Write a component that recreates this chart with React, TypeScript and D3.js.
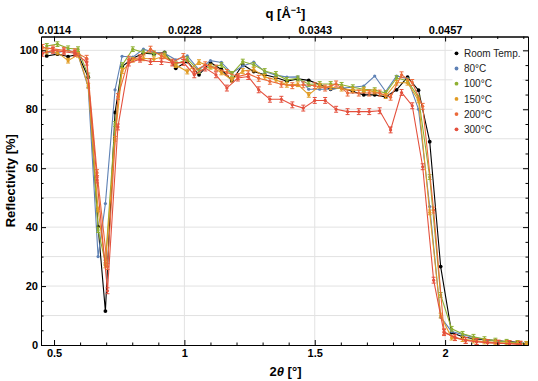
import React, { useEffect, useRef } from 'react';
import * as d3 from 'd3';

// scattering angle 2θ [°] of the measured points
const twoTheta = [0.472, 0.513, 0.554, 0.592, 0.631, 0.669, 0.697, 0.734, 0.761, 0.802, 0.843, 0.883, 0.924, 0.967, 1.011, 1.056, 1.100, 1.142, 1.182, 1.224, 1.266, 1.308, 1.351, 1.393, 1.435, 1.477, 1.519, 1.561, 1.603, 1.646, 1.688, 1.730, 1.772, 1.814, 1.856, 1.898, 1.941, 1.983, 2.025, 2.067, 2.109, 2.151, 2.193, 2.236, 2.278, 2.312];
// the 200°C and 300°C runs were taken on a slightly different grid
const twoThetaHot = [0.456, 0.496, 0.538, 0.580, 0.625, 0.665, 0.705, 0.745, 0.787, 0.830, 0.870, 0.912, 0.954, 0.996, 1.038, 1.080, 1.121, 1.163, 1.205, 1.245, 1.285, 1.328, 1.372, 1.414, 1.456, 1.500, 1.540, 1.582, 1.626, 1.669, 1.709, 1.749, 1.791, 1.833, 1.874, 1.914, 1.956, 1.996, 2.038, 2.079, 2.121, 2.163, 2.205, 2.247, 2.289];

// reflectivity [%]
const roomTemp = [98.1, 98.7, 97.9, 98.6, 90.9, 40.2, 11.5, 78.9, 94.5, 97.3, 99.0, 98.8, 99.3, 93.9, 96.2, 91.7, 95.9, 93.5, 89.7, 95.1, 92.8, 91.7, 90.8, 89.5, 90.3, 89.8, 88.4, 86.8, 87.3, 86.0, 84.9, 84.9, 84.2, 86.6, 90.9, 86.5, 69.0, 26.6, 4.2, 2.8, 2.1, 1.8, 1.5, 1.2, 0.9, 0.3];
const t80 = [99.4, 99.2, 100.1, 98.5, 87.5, 30.0, 48.0, 86.6, 98.0, 97.7, 100.4, 99.3, 99.0, 96.8, 98.1, 93.4, 96.5, 95.9, 92.3, 94.7, 96.0, 92.8, 91.6, 90.9, 91.0, 86.8, 86.8, 86.8, 87.2, 87.5, 87.9, 91.3, 86.0, 91.3, 90.4, 80.0, 47.0, 9.4, 4.6, 3.6, 2.6, 1.9, 1.4, 1.0, 0.6, 0.3];
const t100 = [101.5, 102.1, 100.7, 100.4, 91.5, 39.0, 28.0, 75.0, 95.0, 100.4, 99.3, 99.0, 98.7, 95.3, 97.0, 93.0, 94.5, 95.0, 92.0, 96.2, 95.1, 93.0, 92.0, 90.0, 90.5, 88.5, 88.6, 88.6, 88.3, 87.5, 86.8, 86.5, 85.5, 90.6, 89.7, 84.0, 57.0, 17.0, 5.5, 3.8, 2.8, 2.0, 1.5, 1.1, 0.7, 0.4];
const t150 = [99.6, 99.3, 96.5, 98.5, 88.0, 46.0, 27.0, 70.0, 93.0, 96.8, 97.3, 97.0, 98.0, 95.0, 92.8, 96.0, 94.5, 92.5, 90.0, 93.0, 93.5, 91.0, 90.0, 88.3, 88.5, 84.9, 88.0, 87.5, 87.0, 86.5, 86.5, 86.0, 84.5, 89.0, 89.0, 83.0, 45.0, 10.0, 2.5, 2.0, 1.5, 1.2, 0.9, 0.7, 0.5, 0.3];
const t200 = [101.0, 100.5, 100.0, 99.5, 97.3, 58.5, 26.6, 84.3, 97.0, 97.5, 100.4, 98.1, 96.0, 97.9, 93.0, 95.1, 94.0, 92.5, 91.1, 92.0, 90.5, 89.5, 88.5, 88.0, 88.3, 88.0, 87.2, 88.6, 85.5, 85.5, 85.5, 85.5, 84.1, 91.7, 89.1, 81.0, 45.8, 4.5, 2.5, 1.5, 1.2, 0.8, 0.6, 0.5, 0.3];
const t300 = [99.0, 100.0, 99.5, 99.0, 96.0, 56.0, 18.4, 74.0, 95.7, 97.0, 96.2, 96.2, 95.7, 95.9, 91.7, 94.0, 91.7, 87.2, 90.6, 91.1, 86.6, 83.4, 83.4, 81.5, 80.4, 83.0, 83.0, 80.0, 79.2, 79.2, 79.2, 79.5, 73.0, 85.7, 81.2, 60.5, 22.0, 4.2, 2.6, 1.6, 1.1, 0.8, 0.6, 0.4, 0.2];

const seriesNames = ['Room Temp.', '80°C', '100°C', '150°C', '200°C', '300°C'];
const seriesAngles = [twoTheta, twoTheta, twoTheta, twoTheta, twoThetaHot, twoThetaHot];
const seriesValues = [roomTemp, t80, t100, t150, t200, t300];
const seriesError = [0, 0, 0.8, 0.8, 1.0, 1.0];
const seriesColors = ['#000000', '#5E81B5', '#8FB032', '#E19C24', '#EB6A3A', '#E4503D'];

const xTicks = [0.5, 1, 1.5, 2];
const qTickLabels = ['0.0114', '0.0228', '0.0343', '0.0457'];
const yTicks = [0, 20, 40, 60, 80, 100];

function App() {
  const ref = useRef<SVGSVGElement>(null);

  useEffect(() => {
    const svg = d3.select(ref.current);
    svg.selectAll('*').remove();

    const W = 538, H = 381;
    const margin = { top: 36.5, right: 10, bottom: 36, left: 41 };
    const font = '"Liberation Sans", Arial, sans-serif';

    const x = d3.scaleLinear().domain([0.45, 2.318]).range([margin.left, W - margin.right]);
    const y = d3.scaleLinear().domain([0, 104.7]).range([H - margin.bottom, margin.top]);
    const [x0, x1] = x.range();
    const [y0, y1] = y.range();

    svg.append('rect').attr('width', W).attr('height', H).attr('fill', '#fff');

    // grid
    svg.append('g')
      .selectAll('line')
      .data(d3.range(10, 101, 10))
      .join('line')
      .attr('x1', x0).attr('x2', x1)
      .attr('y1', d => y(d)).attr('y2', d => y(d))
      .attr('stroke', '#e2e2e2').attr('stroke-width', 1);
    svg.append('g')
      .selectAll('line')
      .data([1, 1.5, 2])
      .join('line')
      .attr('x1', d => x(d)).attr('x2', d => x(d))
      .attr('y1', y0).attr('y2', y1)
      .attr('stroke', '#e2e2e2').attr('stroke-width', 1);

    // data
    svg.append('clipPath').attr('id', 'plot-clip')
      .append('rect')
      .attr('x', x0).attr('y', y1).attr('width', x1 - x0).attr('height', y0 - y1);

    const plot = svg.append('g').attr('clip-path', 'url(#plot-clip)');
    const line = d3.line<[number, number]>().x(d => x(d[0])).y(d => y(d[1]));

    seriesNames.forEach((name, i) => {
      const pts: [number, number][] = seriesValues[i].map((v, j) => [seriesAngles[i][j], v]);
      const color = seriesColors[i];
      const g = plot.append('g');
      g.append('path')
        .datum(pts)
        .attr('d', line)
        .attr('fill', 'none')
        .attr('stroke', color)
        .attr('stroke-width', 1.1);
      const err = seriesError[i];
      if (err > 0) {
        const eb = g.append('g').attr('stroke', color).attr('stroke-width', 1);
        eb.selectAll('line.v').data(pts).join('line').attr('class', 'v')
          .attr('x1', d => x(d[0])).attr('x2', d => x(d[0]))
          .attr('y1', d => y(d[1] - err)).attr('y2', d => y(d[1] + err));
        eb.selectAll('line.t').data(pts).join('line').attr('class', 't')
          .attr('x1', d => x(d[0]) - 2).attr('x2', d => x(d[0]) + 2)
          .attr('y1', d => y(d[1] + err)).attr('y2', d => y(d[1] + err));
        eb.selectAll('line.b').data(pts).join('line').attr('class', 'b')
          .attr('x1', d => x(d[0]) - 2).attr('x2', d => x(d[0]) + 2)
          .attr('y1', d => y(d[1] - err)).attr('y2', d => y(d[1] - err));
      }
      g.selectAll('circle')
        .data(pts)
        .join('circle')
        .attr('cx', d => x(d[0]))
        .attr('cy', d => y(d[1]))
        .attr('r', i === 0 ? 1.9 : 1.6)
        .attr('fill', color);
    });

    // frame with inward ticks
    const styleAxis = (g: d3.Selection<SVGGElement, unknown, null, undefined>) => {
      g.select('.domain').attr('stroke', '#000').attr('stroke-width', 1);
      g.selectAll('.tick line').attr('stroke', '#000');
      g.selectAll('.tick text')
        .attr('fill', '#000')
        .attr('font-family', font)
        .attr('font-size', 11)
        .attr('font-weight', 'bold');
    };
    const yMinor = d3.range(0, 104, 5).filter(v => v % 20 !== 0);
    const xMinor = d3.range(0.5, 2.31, 0.1).filter(v => Math.abs(v * 2 - Math.round(v * 2)) > 1e-6);

    svg.append('g').attr('transform', `translate(${x0},0)`)
      .call(d3.axisLeft(y).tickValues(yTicks).tickSize(-5).tickSizeOuter(0).tickPadding(3).tickFormat(d3.format('d')))
      .call(styleAxis);
    svg.append('g').attr('transform', `translate(${x0},0)`)
      .call(d3.axisLeft(y).tickValues(yMinor).tickSize(-2.5).tickSizeOuter(0).tickFormat(() => ''))
      .call(styleAxis);
    svg.append('g').attr('transform', `translate(${x1},0)`)
      .call(d3.axisRight(y).tickValues(yTicks).tickSize(-5).tickSizeOuter(0).tickFormat(() => ''))
      .call(styleAxis);
    svg.append('g').attr('transform', `translate(${x1},0)`)
      .call(d3.axisRight(y).tickValues(yMinor).tickSize(-2.5).tickSizeOuter(0).tickFormat(() => ''))
      .call(styleAxis);

    svg.append('g').attr('transform', `translate(0,${y0})`)
      .call(d3.axisBottom(x).tickValues(xTicks).tickSize(-5).tickSizeOuter(0).tickPadding(4).tickFormat(d3.format('')))
      .call(styleAxis);
    svg.append('g').attr('transform', `translate(0,${y0})`)
      .call(d3.axisBottom(x).tickValues(xMinor).tickSize(-2.5).tickSizeOuter(0).tickFormat(() => ''))
      .call(styleAxis);
    svg.append('g').attr('transform', `translate(0,${y1})`)
      .call(d3.axisTop(x).tickValues(xTicks).tickSize(-5).tickSizeOuter(0).tickPadding(3)
        .tickFormat((_d, i) => qTickLabels[i]))
      .call(styleAxis);
    svg.append('g').attr('transform', `translate(0,${y1})`)
      .call(d3.axisTop(x).tickValues(xMinor).tickSize(-2.5).tickSizeOuter(0).tickFormat(() => ''))
      .call(styleAxis);

    // axis titles
    const cx = (x0 + x1) / 2 + 1;
    const top = svg.append('text')
      .attr('x', cx).attr('y', 18)
      .attr('text-anchor', 'middle')
      .attr('font-family', font).attr('font-size', 13).attr('font-weight', 'bold');
    top.append('tspan').text('q [Å');
    top.append('tspan').attr('font-size', 9).attr('dy', -5).text('−1');
    top.append('tspan').attr('dy', 5).text(']');

    const bottom = svg.append('text')
      .attr('x', cx).attr('y', 376)
      .attr('text-anchor', 'middle')
      .attr('font-family', font).attr('font-size', 13).attr('font-weight', 'bold');
    bottom.append('tspan').text('2');
    bottom.append('tspan').attr('font-style', 'italic').text('θ');
    bottom.append('tspan').text(' [°]');

    svg.append('text')
      .attr('transform', `translate(14.5,${(y0 + y1) / 2 - 10}) rotate(-90)`)
      .attr('text-anchor', 'middle')
      .attr('font-family', font).attr('font-size', 13).attr('font-weight', 'bold')
      .text('Reflectivity [%]');

    // legend
    const legend = svg.append('g').attr('transform', 'translate(456.5,53.3)');
    legend.append('rect')
      .attr('x', -4).attr('y', -8).attr('width', 70).attr('height', 92)
      .attr('fill', '#fff');
    const rows = legend.selectAll('g.row')
      .data(seriesNames)
      .join('g')
      .attr('class', 'row')
      .attr('transform', (_d, i) => `translate(0,${i * 15.2})`);
    rows.append('circle').attr('r', 1.9).attr('fill', (_d, i) => seriesColors[i]);
    rows.append('text')
      .attr('x', 7.5).attr('y', 3.6)
      .attr('font-family', font).attr('font-size', 10)
      .attr('fill', '#222')
      .text(d => d);
  }, []);

  return (
    <svg
      ref={ref}
      width={538}
      height={381}
      style={{ position: 'absolute', left: 0, top: 0, display: 'block' }}
    />
  );
}

export default App;
